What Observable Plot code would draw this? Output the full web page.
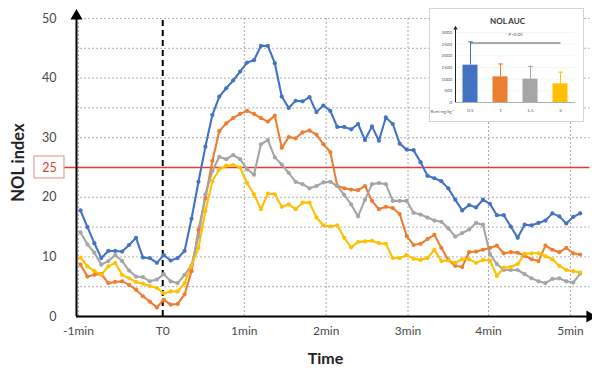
<!DOCTYPE html>
<html><head><meta charset="utf-8">
<script src="https://cdn.jsdelivr.net/npm/d3@7"></script>
<script src="https://cdn.jsdelivr.net/npm/@observablehq/plot@0.6"></script>
<style>
body{margin:0;background:#fff;}
#wrap{position:relative;width:592px;height:372px;font-family:Lato,"Open Sans",sans-serif;}
#inset{position:absolute;left:429px;top:8px;width:155px;height:114px;border:1px solid #d4d4d4;background:#fff;box-sizing:border-box;}
</style></head><body>
<div id="wrap"><div id="main"></div><div id="inset"></div></div>
<script>
// Remifentanil doses (mg/kg^-1) and series colours
const doses = ["0.5", "1", "1.5", "2"];
const colors = ["#4472C4", "#ED7D31", "#A5A5A5", "#FFC000"];

// NOL index, one value per sample (sample 0 = -1min)
const nol05 = [17.8,15.0,12.3,9.8,11.0,11.0,10.9,12.0,13.2,9.9,9.8,9.0,10.3,9.4,9.8,11.0,16.4,
  22.6,28.5,33.8,36.9,38.3,39.6,41.1,42.6,43.0,45.4,45.4,42.5,36.9,35.0,36.2,36.1,36.8,34.3,
  35.4,34.5,31.8,31.8,31.4,32.3,29.6,31.9,29.5,33.4,32.3,29.0,28.0,27.9,25.9,23.6,23.2,22.7,21.5,
  19.6,17.8,18.7,18.3,19.6,18.9,17.0,17.0,15.1,13.2,15.4,15.3,15.7,16.1,17.3,16.8,15.6,16.7,17.3];
const nol1 = [8.7,6.7,7.0,7.1,5.6,5.8,5.9,5.3,4.5,3.4,2.5,1.5,2.8,2.0,2.1,3.7,7.6,
  14.5,19.9,26.1,31.1,32.4,33.3,34.0,34.5,34.0,33.3,32.7,33.7,28.3,30.1,29.9,30.9,31.2,30.5,
  28.9,27.6,21.9,21.5,21.3,21.2,21.9,19.4,18.0,18.4,18.2,17.2,13.5,12.0,12.2,13.0,13.7,11.5,9.5,
  8.5,8.3,10.8,10.9,11.2,11.5,11.9,10.6,10.8,10.7,10.2,9.6,9.3,11.9,11.2,10.8,11.5,10.6,10.4];
const nol15 = [14.1,12.1,10.7,8.7,9.3,10.3,9.3,7.7,6.7,6.6,5.9,6.2,7.1,5.9,5.6,7.0,8.6,
  13.5,20.5,24.4,26.8,26.4,27.1,26.4,24.7,23.8,28.9,29.6,26.7,25.5,24.1,22.6,22.2,21.5,21.9,
  22.5,22.6,21.9,20.4,18.8,16.8,19.6,22.2,22.4,22.2,19.4,19.4,19.4,17.4,17.1,16.6,16.1,15.9,14.8,
  13.4,14.0,14.6,15.7,15.4,10.5,8.8,7.8,7.8,7.8,7.1,6.4,5.9,5.6,6.3,6.4,5.9,5.7,7.2];
const nol2 = [9.9,8.4,7.6,7.0,8.4,9.0,7.0,6.4,5.8,5.5,5.1,4.8,3.9,4.2,4.2,5.6,8.5,
  11.5,17.7,22.7,24.7,25.3,25.4,25.0,22.4,20.5,18.0,20.6,20.5,18.4,18.8,18.0,19.1,19.1,16.6,
  15.3,15.1,15.3,13.2,11.6,12.5,12.6,12.7,12.3,12.2,9.8,9.8,10.3,9.7,9.5,9.8,11.2,9.3,9.4,
  9.0,9.6,9.6,9.0,9.5,9.4,6.8,8.2,8.3,8.8,10.5,10.6,10.6,10.1,9.6,8.5,7.8,7.6,7.4];

// time axis: tick positions (in samples) and labels
const tickAt = [-0.3, 11.85, 23.6, 35.4, 47.2, 58.8, 70.6];
const tickLabels = ["-1min", "T0", "1min", "2min", "3min", "4min", "5min"];
const yTicks = [0, 10, 20, 30, 40, 50];
const yGrid = [5, 10, 15, 20, 25, 30, 35, 40, 45, 50];
const threshold = 25;

// inset: NOL AUC per dose
const aucMean = [1600, 1100, 1000, 800];
const aucTop = [2600, 1650, 1550, 1300];
const aucTicks = [0, 500, 1000, 1500, 2000, 2500, 3000];
const sigLevel = 2550;
const sigText = "* P<0.05";

const series = [nol05, nol1, nol15, nol2];
const rows = doses.flatMap((d, k) => series[k].map((v, i) => ({i, v, dose: d})));
const xMin = -0.576, xMax = 73.78, xArrow = 73.4, yArrow = 50.4;
const t0 = tickAt[1];
const gridX = tickAt.filter((t, j) => j !== 1);

function redBox(index, scales, values, dims) {
  const y = scales.y(threshold);
  const x = dims.marginLeft - 42;
  const r = document.createElementNS("http://www.w3.org/2000/svg", "rect");
  r.setAttribute("x", x); r.setAttribute("y", y - 11);
  r.setAttribute("width", 30); r.setAttribute("height", 22);
  r.setAttribute("fill", "white"); r.setAttribute("stroke", "#e3a0a0"); r.setAttribute("stroke-width", 1.2);
  return r;
}

const main = Plot.plot({
  width: 592, height: 372,
  marginLeft: 76, marginRight: 0, marginTop: 18, marginBottom: 56,
  style: {fontFamily: "Lato, 'Open Sans', sans-serif", fontSize: "12px", color: "#4a4a4a", background: "white", overflow: "visible"},
  x: {domain: [xMin, xMax], axis: null},
  y: {domain: [0, 50], axis: null},
  color: {domain: doses, range: colors},
  marks: [
    Plot.ruleY(yGrid, {x1: xMin, x2: xArrow, stroke: "#b0b0b0", strokeDasharray: "2,2"}),
    Plot.ruleX(gridX, {y1: 0, y2: 50, stroke: "#a8a8a8", strokeDasharray: "2,2"}),
    Plot.ruleY([threshold], {x1: -2.3, x2: xArrow, stroke: "#e53a30", strokeWidth: 1.5}),
    Plot.ruleX([t0], {y1: 0, y2: 50, stroke: "black", strokeWidth: 2, strokeDasharray: "6,4"}),
    Plot.line(rows, {x: "i", y: "v", stroke: "dose", z: "dose", strokeWidth: 2.1}),
    Plot.dot(rows, {x: "i", y: "v", fill: "dose", r: 2.1}),
    Plot.ruleY([0], {x1: xMin, x2: xArrow, stroke: "black", strokeWidth: 2}),
    Plot.ruleX([xMin], {y1: 0, y2: yArrow, stroke: "black", strokeWidth: 2}),
    Plot.dot([xArrow], {x: d => d, y: 0, symbol: "triangle", rotate: 90, r: 4.5, fill: "black"}),
    Plot.dot([yArrow], {x: xMin, y: d => d, symbol: "triangle", r: 4.5, fill: "black"}),
    Plot.axisY({ticks: yTicks, tickSize: 0, tickPadding: 20, fontSize: 12.5, label: null}),
    Plot.axisX({ticks: tickAt, tickFormat: t => tickLabels[tickAt.indexOf(t)], tickSize: 0, tickPadding: 10, fontSize: 12, label: null}),
    redBox,
    Plot.text([threshold], {y: d => d, text: d => String(d), frameAnchor: "left", textAnchor: "middle", dx: -27, fill: "#d9413a", fontSize: 12.5}),
    Plot.text(["NOL index"], {frameAnchor: "left", textAnchor: "middle", dx: -58, dy: -5, rotate: -90, fontSize: 16.5, fontWeight: "bold", fill: "#222"}),
    Plot.text(["Time"], {frameAnchor: "bottom", textAnchor: "middle", dx: -9, dy: 47, fontSize: 16, fontWeight: "bold", fill: "#222"})
  ]
});
document.getElementById("main").appendChild(main);

const aucRows = doses.map((d, k) => ({k, dose: d, mean: aucMean[k], top: aucTop[k], color: colors[k]}));
const inset = Plot.plot({
  width: 153, height: 112,
  marginLeft: 25, marginRight: 8, marginTop: 23, marginBottom: 19,
  style: {fontFamily: "Lato, 'Open Sans', sans-serif", fontSize: "5px", color: "#555", background: "white", overflow: "visible"},
  x: {domain: [-0.5, 3.5], axis: null},
  y: {domain: [0, 3000], axis: null},
  color: {type: "identity"},
  marks: [
    Plot.ruleY(aucTicks.slice(1), {x1: -0.5, x2: 3.5, stroke: "#eeeeee", strokeWidth: 0.6}),
    Plot.rectY(aucRows, {x1: d => d.k - 0.25, x2: d => d.k + 0.25, y1: 0, y2: "mean", fill: "color"}),
    Plot.ruleX(aucRows, {x: "k", y1: "mean", y2: "top", stroke: "color", strokeWidth: 1}),
    Plot.link(aucRows, {x1: d => d.k - 0.08, x2: d => d.k + 0.08, y1: "top", y2: "top", stroke: "color", strokeWidth: 1}),
    Plot.link([sigLevel], {x1: 0, x2: 3, y1: d => d, y2: d => d, stroke: "#444", strokeWidth: 0.9}),
    Plot.text([sigText], {x: 1.45, y: sigLevel, dy: -8, fontSize: 4.5, fill: "#555"}),
    Plot.ruleY([0], {x1: -0.5, x2: 3.5, stroke: "#999", strokeWidth: 0.8}),
    Plot.ruleX([-0.5], {y1: 0, y2: 3150, stroke: "#222", strokeWidth: 1}),
    Plot.dot([3180], {x: -0.5, y: d => d, symbol: "triangle", r: 1.6, fill: "#222"}),
    Plot.axisY({ticks: aucTicks, tickFormat: d => String(d), tickSize: 0, tickPadding: 3.5, fontSize: 4.5, label: null}),
    Plot.axisX({ticks: [0, 1, 2, 3], tickFormat: i => doses[i], tickSize: 0, tickPadding: 6, fontSize: 4.5, label: null}),
    Plot.text(["Remi mg/kg\u207B\u00B9"], {frameAnchor: "bottom-left", textAnchor: "middle", dx: -13, dy: 10, fontSize: 4, fill: "#555"}),
    Plot.text(["NOL AUC"], {frameAnchor: "top", textAnchor: "middle", dx: -8, dy: -14, fontSize: 8, fontWeight: "bold", fill: "#333"})
  ]
});
document.getElementById("inset").appendChild(inset);
</script>
</body></html>
